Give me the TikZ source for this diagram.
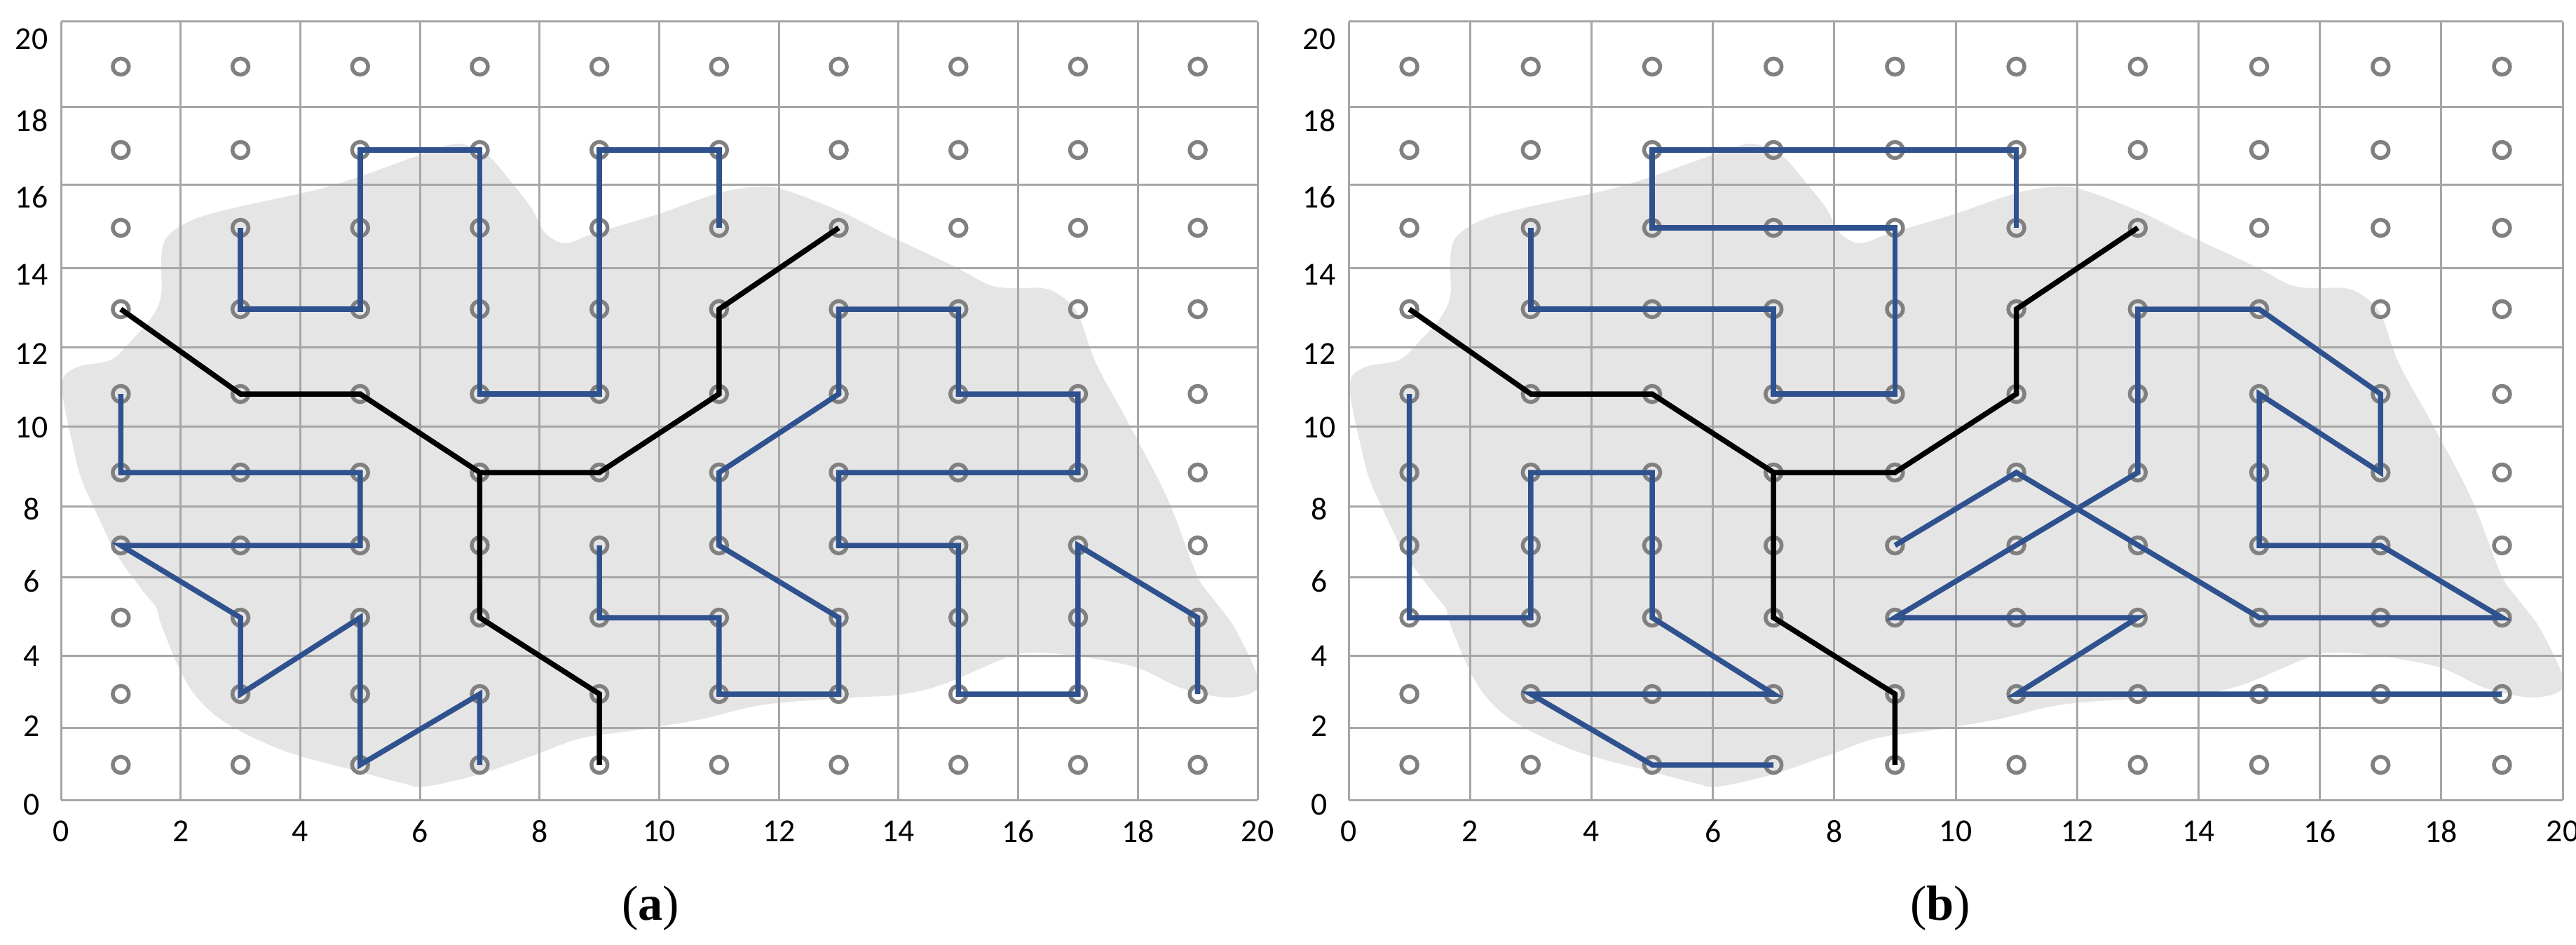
\documentclass[tikz,border=0pt]{standalone}
\usepackage{fontspec}
\setmainfont{Carlito}
\newfontfamily\capfont{Liberation Serif}
\definecolor{lineblue}{RGB}{47,82,143}
\definecolor{gridgray}{RGB}{166,166,166}
\definecolor{dotgray}{RGB}{128,128,128}
\definecolor{blobgray}{RGB}{229,229,229}
\def\rowlist{1/2.56,3/3.57,5/4.66,7/5.69,9/6.73,11/7.85,13/9.06,15/10.22,17/11.33,19/12.52}
\def\hgridlist{2.06,3.09,4.12,5.24,6.25,7.384,8.52,9.65,10.83,11.94,13.164}
\def\ylablist{0/1.99,2/3.11,4/4.11,6/5.18,8/6.21,10/7.375,12/8.42,14/9.55,16/10.66,18/11.75,20/12.915}
\def\blobpath{plot[smooth cycle, tension=0.55] coordinates {
(6.50,11.42) (5.96,11.25) (5.10,10.94) (4.46,10.75) (3.32,10.50) (2.74,10.33)
(2.39,10.10) (2.30,9.80) (2.30,9.26) (2.17,8.95) (1.91,8.65) (1.59,8.34)
(1.15,8.25) (0.92,8.11) (0.89,7.87) (0.96,7.47) (1.05,7.07) (1.15,6.67)
(1.34,6.23) (1.66,5.57) (2.04,5.04) (2.23,4.80) (2.30,4.56) (2.55,3.95)
(2.81,3.52) (3.25,3.14) (4.08,2.75) (5.10,2.47) (5.74,2.30) (6.06,2.25)
(6.82,2.42) (7.65,2.71) (8.29,2.94) (9.12,3.06) (10.00,3.21) (10.91,3.42)
(12.19,3.52) (12.83,3.56) (13.46,3.71) (14.36,4.09) (14.74,4.16) (15.38,4.11)
(16.21,3.95) (16.84,3.66) (17.48,3.52) (17.90,3.61) (17.93,3.85) (17.61,4.52)
(17.29,4.95) (17.07,5.28) (16.65,6.37) (16.08,7.47) (15.63,8.30) (15.38,8.99)
(15.12,9.26) (14.87,9.36) (14.42,9.36) (14.10,9.41) (13.59,9.68) (12.70,10.10)
(12.00,10.45) (11.23,10.75) (10.85,10.81) (10.27,10.72) (9.37,10.41) (8.48,10.14)
(8.13,10.01) (7.94,10.03) (7.75,10.18) (7.59,10.49) (7.33,10.83) (7.01,11.21)
(6.82,11.33)}}
\begin{document}
\begin{tikzpicture}[x=1cm,y=1cm,
  gridline/.style={draw=gridgray, line width=0.03cm},
  dot/.style={circle, draw=dotgray, line width=0.055cm, minimum size=0.23cm, inner sep=0pt},
  pathblue/.style={draw=lineblue, line width=0.075cm},
  pathblack/.style={draw=black, line width=0.075cm},
  ticklab/.style={font=\fontsize{13}{15}\selectfont, inner sep=0pt},
  panellab/.style={font=\capfont\fontsize{20}{24}\selectfont, inner sep=0pt}]
\useasboundingbox (0,0) rectangle (36.75,13.47);
% blobs
\fill[blobgray] \blobpath;
\begin{scope}[xshift=19.24cm, xscale=1.0147, xshift=-0.87cm]
\fill[blobgray] \blobpath;
\end{scope}
\foreach \p/\xo/\xu in {a/0.87/0.8535, b/19.24/0.866}{
  \foreach \v in {0,2,...,20}{
    \draw[gridline] ({\xo+\xu*\v},2.06) -- ({\xo+\xu*\v},13.164);
    \node[ticklab] (\p-x\v) at ({\xo+\xu*\v},1.61) {\v};
  }
  \foreach \yy in \hgridlist{
    \draw[gridline] (\xo,\yy) -- ({\xo+20*\xu},\yy);
  }
  \foreach \v/\yy in \ylablist{
    \node[ticklab] (\p-y\v) at (\xo-0.42,\yy) {\v};
  }
  \foreach \u in {1,3,...,19}{
    \foreach \v/\yy in \rowlist{
      \node[dot] (\p-\u-\v) at ({\xo+\xu*\u},\yy) {};
    }
  }
  \draw[pathblack] (\p-1-13.center) -- (\p-3-11.center) -- (\p-5-11.center) -- (\p-7-9.center)
     -- (\p-9-9.center) -- (\p-11-11.center) -- (\p-11-13.center) -- (\p-13-15.center);
  \draw[pathblack] (\p-7-9.center) -- (\p-7-5.center) -- (\p-9-3.center) -- (\p-9-1.center);
}
% panel (a) blue paths
\draw[pathblue] (a-3-15.center) -- (a-3-13.center) -- (a-5-13.center) -- (a-5-17.center)
  -- (a-7-17.center) -- (a-7-11.center) -- (a-9-11.center) -- (a-9-17.center)
  -- (a-11-17.center) -- (a-11-15.center);
\draw[pathblue] (a-1-11.center) -- (a-1-9.center) -- (a-5-9.center) -- (a-5-7.center)
  -- (a-1-7.center) -- (a-3-5.center) -- (a-3-3.center) -- (a-5-5.center)
  -- (a-5-1.center) -- (a-7-3.center) -- (a-7-1.center);
\draw[pathblue] (a-9-7.center) -- (a-9-5.center) -- (a-11-5.center) -- (a-11-3.center)
  -- (a-13-3.center) -- (a-13-5.center) -- (a-11-7.center) -- (a-11-9.center)
  -- (a-13-11.center) -- (a-13-13.center) -- (a-15-13.center) -- (a-15-11.center)
  -- (a-17-11.center) -- (a-17-9.center) -- (a-13-9.center) -- (a-13-7.center)
  -- (a-15-7.center) -- (a-15-3.center) -- (a-17-3.center) -- (a-17-7.center)
  -- (a-19-5.center) -- (a-19-3.center);
% panel (b) blue paths
\draw[pathblue] (b-3-15.center) -- (b-3-13.center) -- (b-7-13.center) -- (b-7-11.center)
  -- (b-9-11.center) -- (b-9-15.center) -- (b-5-15.center) -- (b-5-17.center)
  -- (b-11-17.center) -- (b-11-15.center);
\draw[pathblue] (b-1-11.center) -- (b-1-5.center) -- (b-3-5.center) -- (b-3-9.center)
  -- (b-5-9.center) -- (b-5-5.center) -- (b-7-3.center) -- (b-3-3.center)
  -- (b-5-1.center) -- (b-7-1.center);
\draw[pathblue] (b-9-7.center) -- (b-11-9.center) -- (b-15-5.center) -- (b-19-5.center)
  -- (b-17-7.center) -- (b-15-7.center) -- (b-15-11.center) -- (b-17-9.center)
  -- (b-17-11.center) -- (b-15-13.center) -- (b-13-13.center) -- (b-13-9.center)
  -- (b-9-5.center) -- (b-13-5.center) -- (b-11-3.center) -- (b-19-3.center);
% captions
\node[panellab] (capa) at (9.28,0.51) {(\textbf{a})};
\node[panellab] (capb) at (27.68,0.51) {(\textbf{b})};
\end{tikzpicture}
\end{document}
